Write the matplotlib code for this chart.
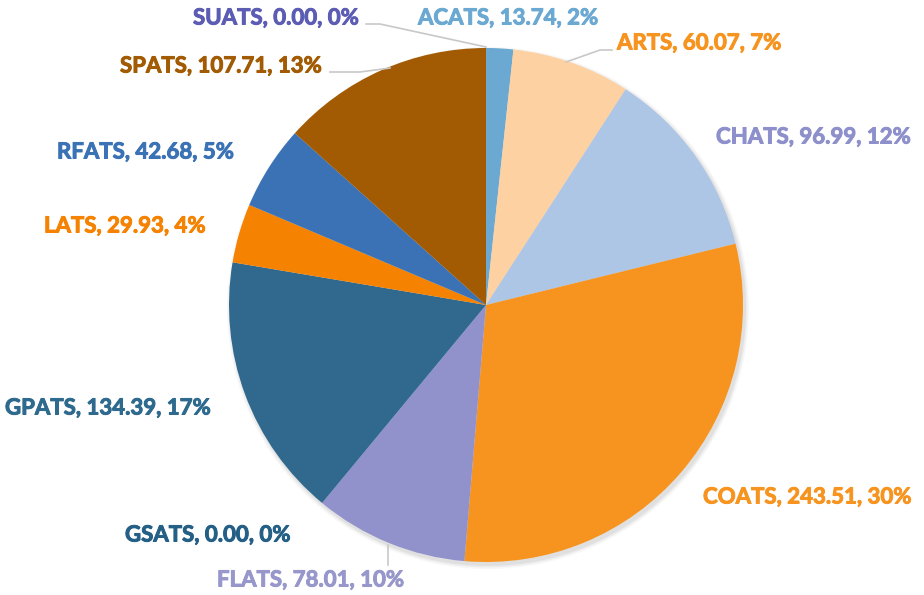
import matplotlib

matplotlib.use("Agg")
import matplotlib.pyplot as plt
import matplotlib.patheffects as pe

# slices, clockwise from 12 o'clock
names = ["ACATS", "ARTS", "CHATS", "COATS", "FLATS", "GSATS",
         "GPATS", "LATS", "RFATS", "SPATS", "SUATS"]
values = [13.74, 60.07, 96.99, 243.51, 78.01, 0.00,
          134.39, 29.93, 42.68, 107.71, 0.00]
slice_colors = ["#6BA9D2", "#FDD1A1", "#AEC6E6", "#F7941F", "#9191CB", "#245F86",
                "#30698D", "#F58200", "#3B72B5", "#A25B03", "#5C5CB4"]
label_colors = ["#6BA9D2", "#F7941F", "#8E90CC", "#F7941F", "#9797CC", "#245F86",
                "#2E6A8E", "#F58200", "#3B72B5", "#A25B03", "#5C5CB4"]

# label anchor (left x, centre y) in pixel space, top-left origin
label_pos = {
    "ACATS": (418, 18), "ARTS": (617, 43), "CHATS": (716, 137),
    "COATS": (703, 497), "FLATS": (217, 580), "GSATS": (125, 535),
    "GPATS": (5, 408), "LATS": (44, 226), "RFATS": (57, 152),
    "SPATS": (120, 66), "SUATS": (193, 18),
}
# leader lines (pixel space)
leaders = {
    "SUATS": [(366, 24), (380, 24), (486, 47)],
    "SPATS": [(330, 72), (360, 72), (390, 68)],
    "ARTS": [(612, 50), (600, 50), (566, 62)],
    "FLATS": [(388, 545), (388, 565)],
}

W, H = 924, 595
fig = plt.figure(figsize=(W / 100, H / 100), dpi=100)
ax = fig.add_axes([0, 0, 1, 1])

cx, cy, r = 486, H - 305, 257

# soft shadow underneath
for i, a in enumerate([0.05, 0.04, 0.03]):
    sh = plt.Circle((cx + 2, cy - 3), r + 1 + i * 1.5, color="black", alpha=a, lw=0)
    ax.add_patch(sh)

ax.pie(values, colors=slice_colors, startangle=90, counterclock=False,
       center=(cx, cy), radius=r, frame=True,
       wedgeprops=dict(linewidth=0))
ax.set_xlim(0, W)
ax.set_ylim(0, H)
ax.set_aspect("equal")
ax.axis("off")

total = sum(values)
for name, val, col in zip(names, values, label_colors):
    x, y = label_pos[name]
    pct = round(100 * val / total)
    ax.text(x, H - y, f"{name}, {val:.2f}, {pct}%", color=col,
            fontsize=16, fontweight="bold", family=["Lato", "DejaVu Sans"],
            ha="left", va="center",
            path_effects=[pe.withStroke(linewidth=0.7, foreground=col)])

for name, pts in leaders.items():
    xs = [p[0] for p in pts]
    ys = [H - p[1] for p in pts]
    ax.plot(xs, ys, color="#C8C8C8", lw=1.2)

fig.savefig("out.png", dpi=100)
